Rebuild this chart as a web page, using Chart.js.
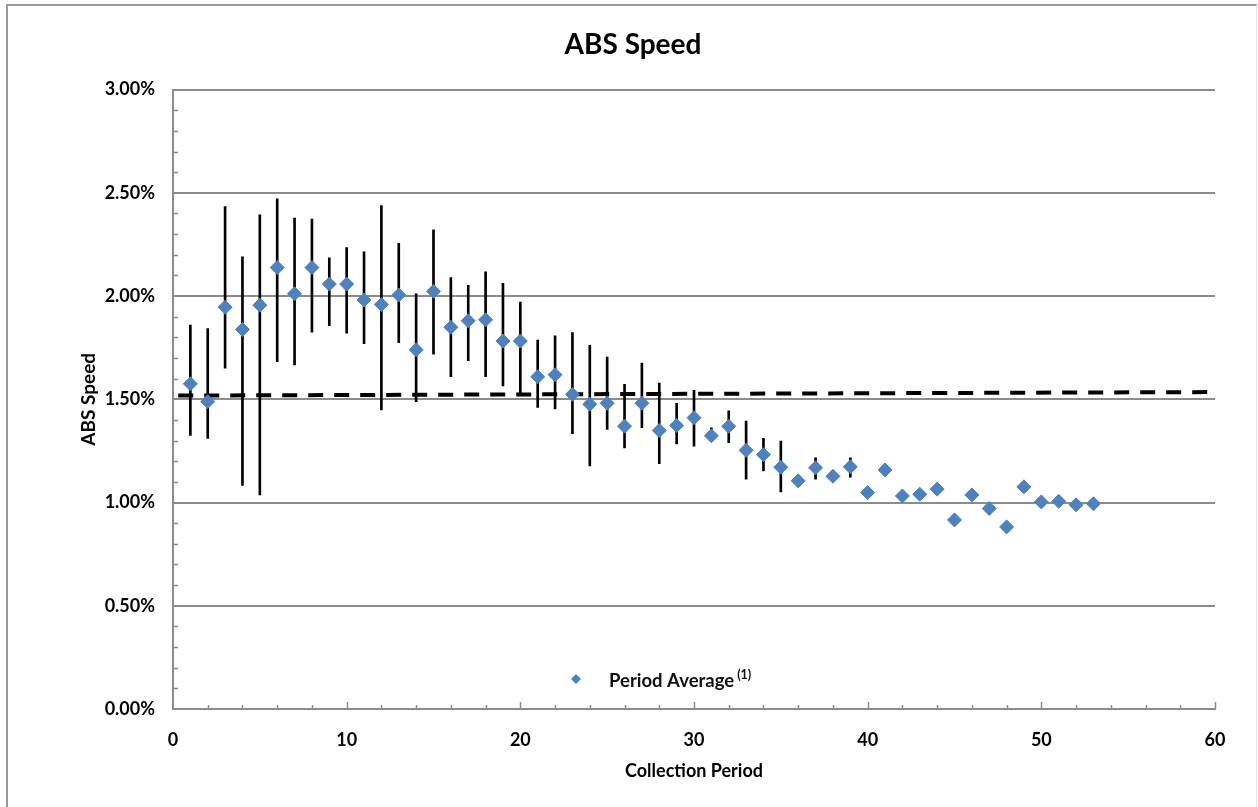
<!DOCTYPE html>
<html>
<head>
<meta charset="utf-8">
<script src="https://cdn.jsdelivr.net/npm/chart.js@4"></script>
<style>
   body { margin: 0; background: #fff; }
   canvas { display: block; }
</style>
</head>
<body>
<canvas id="chart" width="1258" height="807"></canvas>
<script>
// values in percent
const periods = [1, 2, 3, 4, 5, 6, 7, 8, 9, 10, 11, 12, 13, 14, 15, 16, 17, 18, 19, 20,
   21, 22, 23, 24, 25, 26, 27, 28, 29, 30, 31, 32, 33, 34, 35, 36, 37, 38, 39, 40,
   41, 42, 43, 44, 45, 46, 47, 48, 49, 50, 51, 52, 53];

const periodAverage = [1.575, 1.489, 1.946, 1.838, 1.956, 2.138, 2.011, 2.138, 2.058, 2.058,
   1.981, 1.959, 2.005, 1.740, 2.023, 1.849, 1.880, 1.885, 1.782, 1.782,
   1.609, 1.619, 1.524, 1.476, 1.481, 1.370, 1.481, 1.349, 1.373, 1.411,
   1.323, 1.369, 1.253, 1.232, 1.171, 1.105, 1.168, 1.127, 1.173, 1.048,
   1.158, 1.032, 1.040, 1.065, 0.916, 1.037, 0.971, 0.882, 1.076, 1.003,
   1.006, 0.989, 0.994];

const errHigh = [1.859, 1.843, 2.433, 2.190, 2.393, 2.471, 2.378, 2.373, 2.185, 2.235,
   2.214, 2.438, 2.255, 2.011, 2.321, 2.089, 2.052, 2.117, 2.062, 1.971,
   1.787, 1.808, 1.823, 1.761, 1.705, 1.573, 1.675, 1.578, 1.481, 1.544,
   1.362, 1.444, 1.394, 1.311, 1.298, null, 1.216, null, 1.216, null,
   1.180, null, null, null, null, null, null, null, null, null,
   null, null, null];

const errLow = [1.325, 1.310, 1.651, 1.083, 1.037, 1.682, 1.667, 1.825, 1.857, 1.820,
   1.769, 1.448, 1.774, 1.489, 1.719, 1.610, 1.687, 1.610, 1.565, 1.529,
   1.461, 1.453, 1.334, 1.177, 1.354, 1.265, 1.362, 1.188, 1.284, 1.273,
   1.300, 1.290, 1.113, 1.153, 1.052, null, 1.113, null, 1.123, null,
   1.140, null, null, null, null, null, null, null, null, null,
   null, null, null];

const trendX = [0.3, 59.9];
const trendY = [1.518, 1.535];

const yTicks = [0, 0.5, 1, 1.5, 2, 2.5, 3];

const FONT = "Lato, 'Open Sans', sans-serif";
const BLUE = "#4F81BD";
const GRID = "#8c8c8c";

const avgPoints = periods.map((p, i) => ({ x: p, y: periodAverage[i] }));
const errBars = periods
   .map((p, i) => (errLow[i] == null ? null : { x: p, y: [errLow[i], errHigh[i]] }))
   .filter((d) => d !== null);
const trendPoints = trendX.map((x, i) => ({ x: x, y: trendY[i] }));

// frame round the whole picture, minor tick marks and the inside legend
const decorations = {
   id: "decorations",
   beforeDraw(chart) {
      const ctx = chart.ctx;
      ctx.save();
      ctx.fillStyle = "#fff";
      ctx.fillRect(0, 0, chart.width, chart.height);
      ctx.strokeStyle = "#9a9a9a";
      ctx.lineWidth = 2;
      ctx.beginPath();
      ctx.moveTo(7, chart.height + 5);
      ctx.lineTo(7, 5);
      ctx.lineTo(chart.width - 1, 5);
      ctx.stroke();
      ctx.strokeStyle = "#e2e2e2";
      ctx.lineWidth = 1;
      ctx.beginPath();
      ctx.moveTo(chart.width - 1.5, 5);
      ctx.lineTo(chart.width - 1.5, chart.height);
      ctx.stroke();
      ctx.restore();
   },
   afterDatasetsDraw(chart) {
      const ctx = chart.ctx;
      const xs = chart.scales.x;
      const ys = chart.scales.y;
      const area = chart.chartArea;
      ctx.save();
      ctx.strokeStyle = GRID;
      ctx.lineWidth = 1.5;
      ctx.beginPath();
      for (let v = 2; v <= 60; v += 2) {
         const px = Math.round(xs.getPixelForValue(v)) + 0.5;
         const len = v % 10 === 0 ? 7 : 4;
         ctx.moveTo(px, area.bottom);
         ctx.lineTo(px, area.bottom - len);
      }
      for (let k = 1; k <= 30; k++) {
         if (k % 5 === 0) continue;
         const py = Math.round(ys.getPixelForValue(k / 10)) + 0.5;
         ctx.moveTo(area.left, py);
         ctx.lineTo(area.left + 5, py);
      }
      ctx.stroke();

      // legend
      const lx = area.left + 403;
      const ly = area.bottom - 30;
      ctx.fillStyle = BLUE;
      ctx.beginPath();
      ctx.moveTo(lx, ly - 5);
      ctx.lineTo(lx + 5, ly);
      ctx.lineTo(lx, ly + 5);
      ctx.lineTo(lx - 5, ly);
      ctx.closePath();
      ctx.fill();
      ctx.fillStyle = "#111";
      ctx.textBaseline = "middle";
      ctx.font = "bold 18.5px " + FONT;
      const label = "Period Average";
      ctx.fillText(label, lx + 33, ly + 2);
      const w = ctx.measureText(label).width;
      ctx.font = "bold 12.5px " + FONT;
      ctx.fillText("(1)", lx + 33 + w + 3, ly - 4);
      ctx.restore();
   },
};

new Chart(document.getElementById("chart").getContext("2d"), {
   type: "scatter",
   data: {
      datasets: [
         {
            label: "Period Average",
            data: avgPoints,
            pointStyle: "rectRot",
            pointRadius: 7,
            backgroundColor: BLUE,
            borderColor: BLUE,
            borderWidth: 1,
            order: 0,
         },
         {
            type: "line",
            label: "Trend",
            data: trendPoints,
            borderColor: "#000",
            borderWidth: 4,
            borderDash: [15, 11],
            pointRadius: 0,
            fill: false,
            order: 1,
         },
         {
            type: "bar",
            label: "Range",
            data: errBars,
            backgroundColor: "#000",
            barThickness: 2,
            order: 2,
         },
      ],
   },
   options: {
      responsive: false,
      animation: false,
      events: [],
      layout: { padding: { left: 51, right: 43, top: 0, bottom: 0 } },
      plugins: {
         legend: { display: false },
         tooltip: { enabled: false },
         title: {
            display: true,
            text: "ABS Speed",
            color: "#000",
            font: { family: FONT, size: 28, weight: "bold" },
            padding: { top: 28, bottom: 28 },
         },
      },
      scales: {
         x: {
            type: "linear",
            min: 0,
            max: 60,
            offset: false,
            afterFit: (scale) => { scale.height = 98; },
            ticks: {
               stepSize: 10,
               padding: 20,
               color: "#000",
               font: { family: FONT, size: 18, weight: "bold" },
            },
            grid: { display: false, drawTicks: false },
            border: { display: true, color: GRID, width: 2 },
            title: {
               display: true,
               text: "Collection Period",
               color: "#000",
               font: { family: FONT, size: 18, weight: "bold" },
               padding: { top: 0, bottom: 25 },
            },
         },
         y: {
            type: "linear",
            min: 0,
            max: 3,
            afterFit: (scale) => { scale.width = 122; },
            afterBuildTicks: (scale) => {
               scale.ticks = yTicks.map((v) => ({ value: v }));
            },
            ticks: {
               padding: 18,
               color: "#000",
               font: { family: FONT, size: 18, weight: "bold" },
               callback: (v) => v.toFixed(2) + "%",
            },
            grid: { color: GRID, lineWidth: 2, drawTicks: false },
            border: { display: true, color: GRID, width: 2 },
            title: {
               display: true,
               text: "ABS Speed",
               color: "#000",
               font: { family: FONT, size: 19, weight: "bold" },
               padding: { top: 26, bottom: 0 },
            },
         },
      },
   },
   plugins: [decorations],
});
</script>
</body>
</html>
